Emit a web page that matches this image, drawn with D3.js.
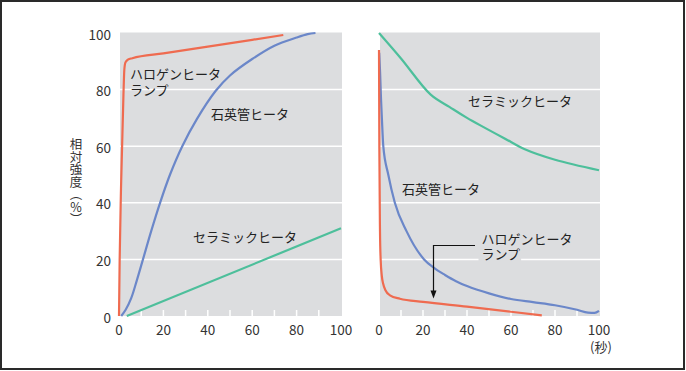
<!DOCTYPE html>
<html><head><meta charset="utf-8">
<script src="https://cdn.jsdelivr.net/npm/d3@7"></script>
<style>
html,body{margin:0;padding:0;background:#fff;}
svg{display:block;font-family:"Noto Sans CJK JP","Noto Sans",sans-serif;}
</style></head>
<body>
<svg id="chart" width="686" height="371"></svg>
<script>
// ---- data ----
const xTickLabels = [0, 20, 40, 60, 80, 100];
const yTickLabels = [0, 20, 40, 60, 80, 100];
const minorTicks = [10, 20, 30, 40, 50, 60, 70, 80, 90];
const gridValues = [20, 40, 60, 80];

// Left panel: heating (rise)
const riseHalogen = [[0,0],[0.3,20],[0.9,45],[1.4,60],[2.0,78],[2.4,87],[2.9,89.6],[4,90.6],[6,91.1],[20,92.8],[40,95.2],[60,97.6],[74,99.3]];
const riseQuartz = [[1,0],[3,2.2],[5.5,6.3],[8,12.5],[10.8,20],[14.5,30],[18.5,40],[23,50],[28.5,60],[35,69.5],[43.5,79.5],[50,85],[60,90.8],[70,95.5],[80,98.4],[85,99.6],[88.5,100]];
const riseCeramic = [[3.5,0],[100,31]];

// Right panel: cooling (fall)
const fallHalogen = [[0,94],[0.15,60],[0.45,30],[0.75,20],[1.3,14],[1.9,11.4],[3,9],[5,7.3],[9.5,6.1],[20,5],[40,3.3],[60,1.5],[74,0.2]];
const fallQuartz = [[0.1,93],[0.5,86],[0.9,77],[1.3,70],[1.95,60],[4.2,50],[7.2,40],[12.5,30],[20.5,20],[25,17],[30,14.5],[35,12.3],[40,10.6],[50,8],[60,6],[70,4.9],[80,3.8],[90,2.2],[95,1.2],[98,1.1],[100,1.8]];
const fallCeramic = [[0,100],[10,91],[23.5,78.2],[32,73.9],[40,70],[60,61.5],[66,59],[80,55.2],[100,51.5]];

const colors = {halogen:"#ef6b50", quartz:"#6b87c9", ceramic:"#4dbf9b"};
const plotBg = "#dcdddf";
const textColor = "#333";

const svg = d3.select("#chart");

// outer frame
svg.append("rect").attr("x",1).attr("y",1).attr("width",683).attr("height",368)
  .attr("fill","#fff").attr("stroke","#2a2a2a").attr("stroke-width",2);

const yScale = d3.scaleLinear().domain([0,100]).range([316,33]);

function panel(x0, x1, series, showY){
  const xScale = d3.scaleLinear().domain([0,100]).range([x0, x1]);
  const g = svg.append("g");
  g.append("rect").attr("x", x0+1).attr("y", yScale(100)-0.5)
    .attr("width", x1-x0).attr("height", yScale(0)-yScale(100)+0.5).attr("fill", plotBg);
  g.selectAll(".grid").data(gridValues).join("line")
    .attr("x1", x0+1).attr("x2", x1+1).attr("y1", d=>yScale(d)).attr("y2", d=>yScale(d))
    .attr("stroke","#fff").attr("stroke-width",1.5);
  g.selectAll(".tick").data(minorTicks).join("line")
    .attr("x1", d=>xScale(d)).attr("x2", d=>xScale(d))
    .attr("y1", yScale(0)).attr("y2", yScale(0)-6)
    .attr("stroke","#fff").attr("stroke-width",1.5);
  g.selectAll(".xl").data(xTickLabels).join("text")
    .attr("x", d=>xScale(d)).attr("y", 335).attr("text-anchor","middle")
    .attr("font-size",13.5).attr("fill",textColor).text(d=>d);
  if(showY){
    g.selectAll(".yl").data(yTickLabels).join("text")
      .attr("x", 111).attr("y", d=>yScale(d)+6.5).attr("text-anchor","end")
      .attr("font-size",13.5).attr("fill",textColor).text(d=>d);
  }
  series.forEach(s=>{
    const line = d3.line().x(d=>xScale(d[0])).y(d=>yScale(d[1])).curve(s.curve);
    g.append("path").attr("d", line(s.data)).attr("fill","none")
      .attr("stroke", s.color).attr("stroke-width",2.2).attr("stroke-linejoin","round");
  });
  return {g, xScale};
}

const smooth = d3.curveCatmullRom.alpha(0.5);

panel(119, 341, [
  {data: riseCeramic, color: colors.ceramic, curve: d3.curveLinear},
  {data: riseQuartz, color: colors.quartz, curve: smooth},
  {data: riseHalogen, color: colors.halogen, curve: d3.curveMonotoneX}
], true);

panel(379, 599, [
  {data: fallCeramic, color: colors.ceramic, curve: smooth},
  {data: fallQuartz, color: colors.quartz, curve: d3.curveMonotoneX},
  {data: fallHalogen, color: colors.halogen, curve: d3.curveMonotoneX}
], false);

function label(x, y, lines){
  const t = svg.append("text").attr("font-size",13).attr("fill","#222");
  lines.forEach((s,i)=>{
    t.append("tspan").attr("x",x).attr("y",y+i*15.5).text(s);
  });
  return t;
}
// left panel labels
label(130, 79, ["ハロゲンヒータ","ランプ"]);
label(211, 119, ["石英管ヒータ"]);
label(193, 242, ["セラミックヒータ"]);
// right panel labels
label(468, 106, ["セラミックヒータ"]);
label(402, 194, ["石英管ヒータ"]);

// right halogen annotation with background behind second line
const hl = label(481.5, 243.5, ["ハロゲンヒータ","ランプ"]);
const bb = hl.select("tspan:nth-child(2)").node().getBBox();
svg.insert("rect", function(){ return hl.node(); })
  .attr("x", bb.x-3).attr("y", bb.y+2).attr("width", bb.width+4).attr("height", bb.height-3)
  .attr("fill", plotBg);
// leader line
svg.append("path").attr("d","M475,245.5H433.5V291").attr("fill","none")
  .attr("stroke","#111").attr("stroke-width",1.2);
svg.append("path").attr("d","M430.5,290.5L436.5,290.5L433.5,298.5Z").attr("fill","#111");

// y axis title, vertical writing
svg.append("text")
  .attr("x", 76).attr("y", 138)
  .attr("font-size", 12.5).attr("fill", textColor)
  .style("writing-mode", "vertical-rl")
  .style("text-orientation", "upright")
  .text("相対強度（%）");

// unit
svg.append("text").attr("x",601).attr("y",352).attr("text-anchor","middle")
  .attr("font-size",13).attr("fill",textColor).text("(秒)");
</script>
</body></html>
